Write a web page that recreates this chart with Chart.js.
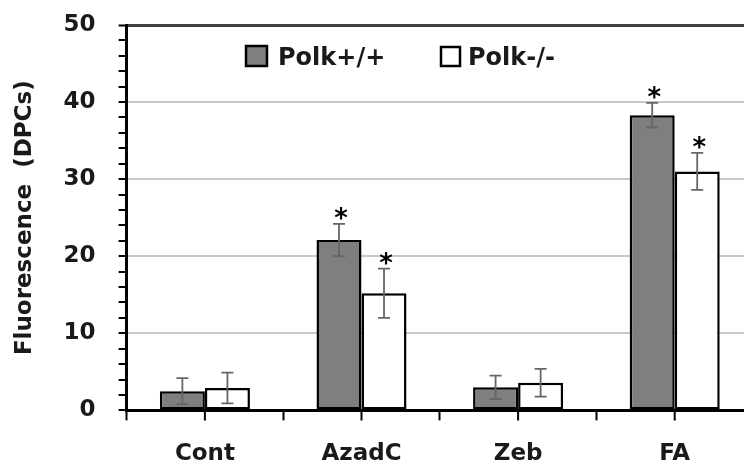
<html lang="en">
<head>
    <meta charset="UTF-8">
    <title>Fluorescence (DPCs)</title>
    <script src="https://cdn.jsdelivr.net/npm/chart.js"></script>
    <style>
      html, body {
          margin: 0;
          background: #fff;
          overflow: hidden;
      }
      #wrap {
          width: 760px;
          height: 488px;
      }
    </style>
</head>
<body>
    <div id="wrap"><canvas id="dpcChart"></canvas></div>
    <script>
        // values
        const categories = ['Cont', 'AzadC', 'Zeb', 'FA'];
        const seriesNames = ['Polk+/+', 'Polk-/-'];
        const polkWT = [2.5, 22.1, 3.0, 38.3];
        const polkWTErr = [1.7, 2.1, 1.5, 1.6];
        const polkKO = [2.9, 15.2, 3.6, 31.0];
        const polkKOErr = [2.0, 3.2, 1.8, 2.4];
        const polkWTSig = [false, true, false, true];
        const polkKOSig = [false, true, false, true];
        const yTicks = [0, 10, 20, 30, 40, 50];

        const FONT = 'DejaVu Sans';

        const errorBars = {
            id: 'errorBars',
            afterDatasetsDraw(chart) {
                const ctx = chart.ctx;
                const y = chart.scales.y;
                ctx.save();
                chart.data.datasets.forEach((ds, di) => {
                    const meta = chart.getDatasetMeta(di);
                    meta.data.forEach((bar, i) => {
                        const v = ds.data[i], e = ds.errors[i];
                        const top = y.getPixelForValue(v + e);
                        const bot = y.getPixelForValue(v - e);
                        ctx.strokeStyle = '#666';
                        ctx.lineWidth = 1.8;
                        ctx.beginPath();
                        ctx.moveTo(bar.x, top); ctx.lineTo(bar.x, bot);
                        ctx.moveTo(bar.x - 6, top); ctx.lineTo(bar.x + 6, top);
                        ctx.moveTo(bar.x - 6, bot); ctx.lineTo(bar.x + 6, bot);
                        ctx.stroke();
                        if (ds.sig[i]) {
                            ctx.fillStyle = '#000';
                            ctx.font = 'bold 26px ' + FONT;
                            ctx.textAlign = 'center';
                            ctx.textBaseline = 'alphabetic';
                            ctx.fillText('*', bar.x + 2, top + 3);
                        }
                    });
                });
                // tick marks under each category centre
                const x = chart.scales.x;
                ctx.strokeStyle = '#000';
                ctx.lineWidth = 2;
                ctx.beginPath();
                categories.forEach((c, i) => {
                    const px = x.getPixelForValue(i);
                    ctx.moveTo(px, x.top);
                    ctx.lineTo(px, x.top + 10);
                });
                ctx.stroke();
                ctx.restore();
            }
        };

        const legendInside = {
            id: 'legendInside',
            afterDraw(chart) {
                const ctx = chart.ctx;
                const spots = [[246, 46, 21, 20, 278], [441, 47, 19, 19, 468]];
                ctx.save();
                chart.data.datasets.forEach((ds, di) => {
                    const [bx, by, bw, bh, tx] = spots[di];
                    ctx.fillStyle = ds.backgroundColor;
                    ctx.fillRect(bx, by, bw, bh);
                    ctx.strokeStyle = '#000';
                    ctx.lineWidth = 2.5;
                    ctx.strokeRect(bx, by, bw, bh);
                    ctx.fillStyle = '#1a1a1a';
                    ctx.font = 'bold 24px ' + FONT;
                    ctx.textAlign = 'left';
                    ctx.textBaseline = 'alphabetic';
                    ctx.fillText(ds.label, tx, 65);
                });
                ctx.restore();
            }
        };

        const ctx = document.getElementById('dpcChart').getContext('2d');
        const chart = new Chart(ctx, {
            type: 'bar',
            data: {
                labels: categories,
                datasets: [{
                    label: seriesNames[0],
                    data: polkWT,
                    errors: polkWTErr,
                    sig: polkWTSig,
                    backgroundColor: '#7f7f7f',
                    borderColor: '#000',
                    borderWidth: 2.5,
                    borderSkipped: false
                }, {
                    label: seriesNames[1],
                    data: polkKO,
                    errors: polkKOErr,
                    sig: polkKOSig,
                    backgroundColor: '#ffffff',
                    borderColor: '#000',
                    borderWidth: 2.5,
                    borderSkipped: false
                }]
            },
            options: {
                responsive: true,
                maintainAspectRatio: false,
                animation: false,
                layout: { padding: { left: 11, right: 7, top: 25, bottom: 0 } },
                plugins: {
                    legend: { display: false },
                    tooltip: { enabled: false }
                },
                datasets: {
                    bar: { categoryPercentage: 0.575, barPercentage: 1 }
                },
                scales: {
                    x: {
                        grid: {
                            offset: true,
                            drawOnChartArea: false,
                            tickLength: 10,
                            tickColor: '#000',
                            tickWidth: 2
                        },
                        border: { color: '#000', width: 3 },
                        ticks: {
                            color: '#1a1a1a',
                            padding: 20,
                            font: { family: FONT, size: 23, weight: 'bold' }
                        }
                    },
                    y: {
                        min: 0,
                        max: 50,
                        // label padding should not push the plot down
                        afterFit: s => { s.paddingTop = 0; s.paddingBottom = 0; },
                        grid: {
                            color: c => {
                                const v = c.tick.value;
                                if (v === 50) return '#404040';
                                return (v > 0 && yTicks.includes(v)) ? '#c8c8c8' : 'rgba(0,0,0,0)';
                            },
                            lineWidth: c => c.tick.value === 50 ? 3 : 2,
                            tickLength: 8,
                            tickColor: '#000',
                            tickWidth: 2
                        },
                        border: { color: '#000', width: 3 },
                        ticks: {
                            stepSize: 2,
                            autoSkip: false,
                            padding: 23,
                            color: '#1a1a1a',
                            font: { family: FONT, size: 23, weight: 'bold' },
                            callback: v => yTicks.includes(v) ? v : ''
                        },
                        title: {
                            display: true,
                            text: 'Fluorescence  (DPCs)',
                            color: '#1a1a1a',
                            padding: { top: 0, bottom: 2 },
                            font: { family: FONT, size: 23, weight: 'bold' }
                        }
                    }
                }
            },
            plugins: [errorBars, legendInside]
        });
    </script>
</body>
</html>
